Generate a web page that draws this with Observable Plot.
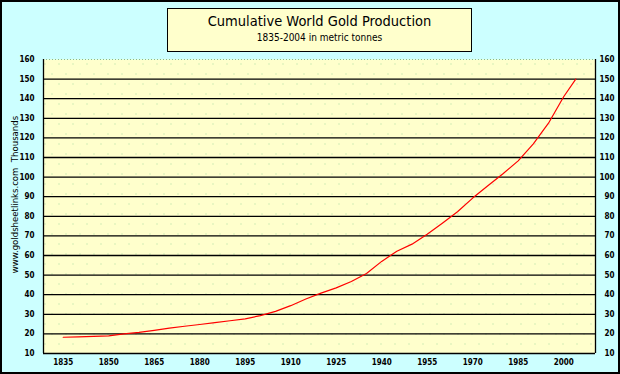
<!DOCTYPE html>
<html><head><meta charset="utf-8">
<script src="https://cdn.jsdelivr.net/npm/d3@7"></script>
<script src="https://cdn.jsdelivr.net/npm/@observablehq/plot@0.6"></script>
<style>
body{margin:0;background:#fff;}
#chart{position:relative;width:620px;height:374px;background:#ccffff;overflow:hidden;font-family:"DejaVu Sans Condensed","DejaVu Sans",sans-serif;}
#chart svg{position:absolute;left:0;top:0;}
#titlebox{position:absolute;left:167px;top:8px;width:305px;height:44px;box-sizing:border-box;border:1px solid #000;background:#ffffcc;text-align:center;color:#000;}
#t1{position:absolute;left:0;right:0;top:3px;font-size:14.5px;line-height:18px;}
#t2{position:absolute;left:0;right:0;top:22px;font-size:10px;line-height:14px;}
#border{position:absolute;left:0;top:0;width:620px;height:374px;box-sizing:border-box;border:2px solid #000;pointer-events:none;}
</style>
</head><body>
<div id="chart"></div>
<script>
const titleText = "Cumulative World Gold Production";
const subtitleText = "1835-2004 in metric tonnes";
const yAxisLabel = "www.goldsheetlinks.com  Thousands";

const years = [1835,1840,1845,1850,1855,1860,1865,1870,1875,1880,1885,1890,1895,1900,1905,1910,1915,1920,1925,1930,1935,1940,1945,1950,1955,1960,1965,1970,1975,1980,1985,1990,1995,2000,2004];
const values = [18.3,18.5,18.7,19.0,20.0,20.8,21.8,22.9,23.9,24.8,25.8,26.7,27.7,29.3,31.5,34.4,37.8,40.8,43.5,46.7,50.8,57.0,62.2,65.8,70.8,76.5,82.3,89.3,95.6,101.7,108.3,117.0,127.5,141.0,150.0];
const xTickLabels = [1835,1850,1865,1880,1895,1910,1925,1940,1955,1970,1985,2000];
const yTickLabels = [10,20,30,40,50,60,70,80,90,100,110,120,130,140,150,160];

const data = years.map((y, i) => ({year: y, value: values[i]}));
const xDomain = [1828.5, 2010.5];
const yDomain = [10, 160];
const font = "'DejaVu Sans Condensed', 'DejaVu Sans', sans-serif";

const plot = Plot.plot({
  width: 620,
  height: 374,
  marginLeft: 43,
  marginRight: 25,
  marginTop: 59,
  marginBottom: 21,
  style: {background: "transparent", fontFamily: font, fontSize: "8px", color: "#000"},
  x: {domain: xDomain, label: null},
  y: {domain: yDomain, label: null},
  marks: [
    Plot.frame({fill: "#ffffcc", stroke: "none"}),
    Plot.frame({fill: "url(#dots)", stroke: "none"}),
    Plot.ruleY(yTickLabels.filter(v => v > 10 && v < 160), {stroke: "#000", strokeWidth: 1.3}),
    Plot.ruleY([160], {stroke: "#88bb88", strokeDasharray: "1,2"}),
    Plot.ruleY([10], {stroke: "#000", strokeWidth: 1.3}),
    Plot.ruleX([xDomain[0]], {stroke: "#000", strokeWidth: 1.3}),
    Plot.ruleX([xDomain[1]], {stroke: "#000", strokeWidth: 1.3}),
    Plot.line(data, {x: "year", y: "value", stroke: "#ff0000", strokeWidth: 1.2}),
    Plot.axisY(yTickLabels, {anchor: "left", tickSize: 0, tickPadding: 9, label: null, fontWeight: "bold"}),
    Plot.axisY(yTickLabels, {anchor: "right", tickSize: 0, tickPadding: 0, textAnchor: "end", dx: 19, label: null, fontWeight: "bold"}),
    Plot.axisX(xTickLabels, {anchor: "bottom", tickSize: 0, tickPadding: 6, tickFormat: d => String(d), label: null, fontWeight: "bold"}),
    Plot.text([yAxisLabel], {frameAnchor: "left", textAnchor: "middle", lineAnchor: "middle", rotate: -90, dx: -29, dy: -12, fontSize: 9.5})
  ]
});

const svg = d3.select(plot);
const defs = svg.insert("defs", ":first-child");
const pat = defs.append("pattern").attr("id", "dots").attr("patternUnits", "userSpaceOnUse")
  .attr("width", 14).attr("height", 20);
[[2,3],[9,13]].forEach(([x, y]) => pat.append("rect").attr("x", x).attr("y", y).attr("width", 1).attr("height", 1).attr("fill", "#a8dca0"));

const chart = document.getElementById("chart");
chart.appendChild(plot);
const tb = document.createElement("div");
tb.id = "titlebox";
tb.innerHTML = `<div id="t1"></div><div id="t2"></div>`;
tb.querySelector("#t1").textContent = titleText;
tb.querySelector("#t2").textContent = subtitleText;
chart.appendChild(tb);
const b = document.createElement("div");
b.id = "border";
chart.appendChild(b);
</script>
</body></html>
